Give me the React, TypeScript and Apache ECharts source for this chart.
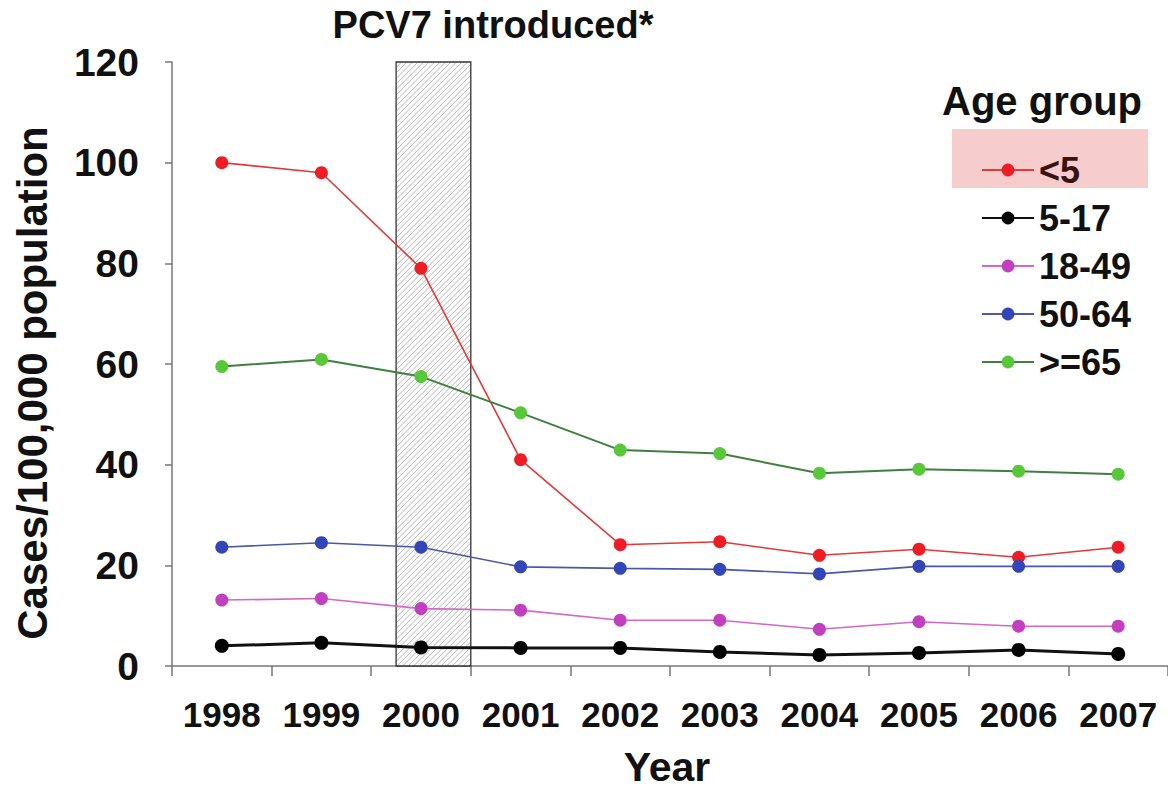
import React, { useEffect, useRef } from "react";
import * as echarts from "echarts";

const years = ["1998", "1999", "2000", "2001", "2002", "2003", "2004", "2005", "2006", "2007"];
const seriesNames = ["<5", "5-17", "18-49", "50-64", ">=65"];
const under5 = [100, 98, 79, 41, 24.1, 24.7, 22.0, 23.2, 21.6, 23.6];
const age5to17 = [4.0, 4.6, 3.7, 3.6, 3.6, 2.8, 2.2, 2.6, 3.2, 2.4];
const age18to49 = [13.1, 13.4, 11.4, 11.1, 9.1, 9.1, 7.3, 8.8, 7.9, 7.9];
const age50to64 = [23.6, 24.5, 23.6, 19.7, 19.4, 19.2, 18.3, 19.8, 19.8, 19.8];
const age65plus = [59.5, 60.9, 57.5, 50.3, 42.9, 42.2, 38.3, 39.1, 38.7, 38.1];
// PCV7 introduction period on the year-index scale: [start, end, yMin, yMax]
const pcv7Period = [[1.75, 2.5, 0, 120]];
const yTicks = [0, 20, 40, 60, 80, 100, 120];

const FONT = "'Liberation Sans', Arial, Helvetica, sans-serif";

const lineColors = ["#e03a3a", "#111111", "#d468c4", "#4a58a8", "#3f7f3f"];
const markerColors = ["#ee1c24", "#000000", "#c23fc0", "#3445b8", "#58c83a"];
const lineWidths = [1.6, 3, 1.6, 1.6, 2];
const allData = [under5, age5to17, age18to49, age50to64, age65plus];

export default function App() {
  const ref = useRef<HTMLDivElement>(null);
  useEffect(() => {
    if (!ref.current) return;
    const chart = echarts.init(ref.current, null, { renderer: "svg" });

    const lineSeries = seriesNames.map((name, i) => ({
      name,
      type: "line",
      xAxisIndex: 0,
      yAxisIndex: 0,
      data: allData[i],
      symbol: "circle",
      symbolSize: i === 1 ? 14 : 13,
      z: 3,
      lineStyle: { color: lineColors[i], width: lineWidths[i] },
      itemStyle: { color: markerColors[i] },
    }));

    const option = {
      animation: false,
      backgroundColor: "#ffffff",
      textStyle: { fontFamily: FONT },
      grid: { left: 172, top: 62, width: 1002, height: 604, containLabel: false },
      xAxis: [
        {
          type: "category",
          data: years,
          boundaryGap: true,
          axisLine: { onZero: false, lineStyle: { color: "#777", width: 1.5 } },
          axisTick: { show: true, length: 10, lineStyle: { color: "#777", width: 1.5 } },
          axisLabel: {
            interval: 0,
            margin: 31,
            fontSize: 35,
            fontWeight: "bold",
            color: "#111",
            fontFamily: FONT,
          },
          splitLine: { show: false },
        },
        {
          type: "value",
          min: -0.5,
          max: 9.5,
          show: false,
          axisLine: { onZero: false },
        },
      ],
      yAxis: [
        {
          type: "value",
          min: 0,
          max: 120,
          interval: 20,
          axisLine: { show: true, onZero: false, lineStyle: { color: "#777", width: 1.5 } },
          axisTick: { show: true, length: 7, lineStyle: { color: "#777", width: 1.5 } },
          axisLabel: {
            margin: 33,
            fontSize: 39,
            fontWeight: "bold",
            color: "#111",
            fontFamily: FONT,
            formatter: (v: number) => (yTicks.includes(v) ? String(v) : ""),
          },
          splitLine: { show: false },
        },
      ],
      legend: {
        orient: "vertical",
        left: 976,
        top: 147,
        itemWidth: 52,
        itemHeight: 16,
        itemGap: 12,
        data: seriesNames.map((n, i) => ({
          name: n,
          textStyle: i === 0 ? { color: "#3b1212" } : { color: "#111" },
        })),
        textStyle: {
          fontSize: 36,
          fontWeight: "bold",
          fontFamily: FONT,
          lineHeight: 36,
          color: "#111",
        },
      },
      graphic: [
        {
          type: "rect",
          z: -1,
          shape: { x: 952, y: 129, width: 196, height: 59 },
          style: { fill: "#f7cccc" },
        },
        {
          type: "text",
          x: 1042,
          y: 101,
          style: {
            text: "Age group",
            fontSize: 40,
            fontWeight: "bold",
            fontFamily: FONT,
            fill: "#111",
            align: "center",
            verticalAlign: "middle",
          },
        },
        {
          type: "text",
          x: 493,
          y: 25,
          style: {
            text: "PCV7 introduced*",
            fontSize: 38,
            fontWeight: "bold",
            fontFamily: FONT,
            fill: "#111",
            align: "center",
            verticalAlign: "middle",
          },
        },
        {
          type: "text",
          x: 667,
          y: 767,
          style: {
            text: "Year",
            fontSize: 41,
            fontWeight: "bold",
            fontFamily: FONT,
            fill: "#111",
            align: "center",
            verticalAlign: "middle",
          },
        },
        {
          type: "text",
          x: 32,
          y: 383,
          rotation: Math.PI / 2,
          style: {
            text: "Cases/100,000 population",
            fontSize: 42,
            fontWeight: "bold",
            fontFamily: FONT,
            fill: "#111",
            align: "center",
            verticalAlign: "middle",
          },
        },
      ],
      series: [
        {
          type: "custom",
          name: "PCV7",
          xAxisIndex: 1,
          yAxisIndex: 0,
          z: 1,
          clip: false,
          silent: true,
          data: pcv7Period,
          renderItem: (params: any, api: any) => {
            const tl = api.coord([api.value(0), api.value(3)]);
            const br = api.coord([api.value(1), api.value(2)]);
            const L = tl[0], T = tl[1], R = br[0], B = br[1];
            const children: any[] = [
              {
                type: "rect",
                shape: { x: L, y: T, width: R - L, height: B - T },
                style: { fill: "#fafafa", stroke: "none" },
              },
            ];
            const step = 5.5;
            for (let c = L + T + step; c < R + B; c += step) {
              const xa = Math.max(L, c - B);
              const xb = Math.min(R, c - T);
              if (xb <= xa) continue;
              children.push({
                type: "line",
                shape: { x1: xa, y1: c - xa, x2: xb, y2: c - xb },
                style: { stroke: "#ababab", lineWidth: 0.8 },
              });
            }
            children.push({
              type: "rect",
              shape: { x: L, y: T, width: R - L, height: B - T },
              style: { fill: "none", stroke: "#333", lineWidth: 1.3 },
            });
            return { type: "group", children };
          },
        },
        ...lineSeries,
      ],
    };

    chart.setOption(option as any);
    return () => chart.dispose();
  }, []);

  return (
    <div
      ref={ref}
      style={{ position: "fixed", left: 0, top: 0, width: 1168, height: 792, background: "#fff" }}
    />
  );
}
